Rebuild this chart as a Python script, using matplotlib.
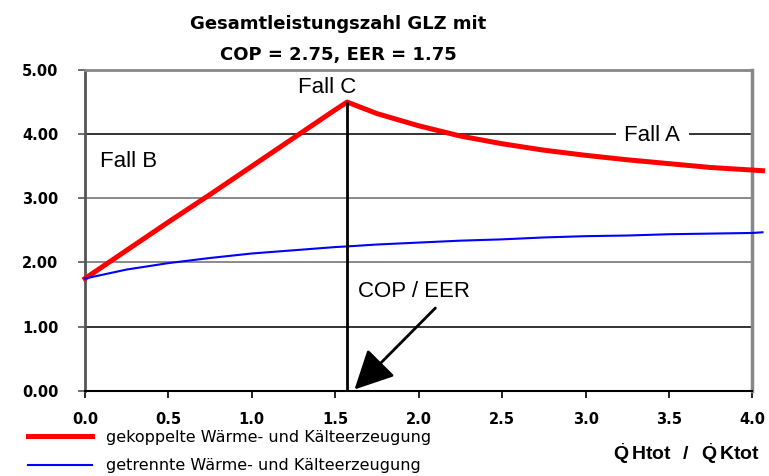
import matplotlib.pyplot as plt
import numpy as np

plt.rcParams['font.family'] = ['Liberation Sans', 'DejaVu Sans']
plt.rcParams['mathtext.fontset'] = 'custom'
plt.rcParams['mathtext.bf'] = 'Liberation Sans:bold'
plt.rcParams['mathtext.rm'] = 'Liberation Sans'

# Verhältnis Q_Htot / Q_Ktot
ratio = [0.0, 0.25, 0.5, 0.75, 1.0, 1.25, 1.5, 1.571, 1.75, 2.0, 2.25,
         2.5, 2.75, 3.0, 3.25, 3.5, 3.75, 4.0, 4.06]
# gekoppelte Wärme- und Kälteerzeugung
glz_gekoppelt = [1.75, 2.19, 2.63, 3.06, 3.50, 3.94, 4.38, 4.50, 4.32, 4.13, 3.97,
                 3.85, 3.75, 3.67, 3.60, 3.54, 3.48, 3.44, 3.43]
# getrennte Wärme- und Kälteerzeugung
glz_getrennt = [1.75, 1.89, 1.99, 2.07, 2.14, 2.19, 2.24, 2.25, 2.28, 2.31, 2.34,
                2.36, 2.39, 2.41, 2.42, 2.44, 2.45, 2.46, 2.47]

cop_eer = 1.571
glz_max = 4.50

fig = plt.figure(figsize=(7.69, 4.76), dpi=100)
ax = fig.add_axes([0.1105, 0.179, 0.868, 0.674])

ax.plot(ratio, glz_gekoppelt, color='#ff0000', lw=3.6, clip_on=False, zorder=4,
        label='gekoppelte Wärme- und Kälteerzeugung')
ax.plot(ratio, glz_getrennt, color='#0000ff', lw=1.5, clip_on=False, zorder=4,
        label='getrennte Wärme- und Kälteerzeugung')
ax.vlines(cop_eer, 0, glz_max, color='black', lw=2, zorder=5)

ax.set_xlim(0, 4.0)
ax.set_ylim(0, 5.0)
ax.set_xticks(np.arange(0, 4.01, 0.5))
ax.set_yticks(np.arange(0, 5.01, 1.0))
ax.set_xticklabels(['%.1f' % v for v in np.arange(0, 4.01, 0.5)])
ax.set_yticklabels(['%.2f' % v for v in np.arange(0, 5.01, 1.0)])
for lab in ax.get_xticklabels() + ax.get_yticklabels():
    lab.set_fontfamily('DejaVu Sans')
    lab.set_fontweight('bold')
    lab.set_fontsize(10.5)
ax.tick_params(axis='x', length=5, width=1.2, pad=10, color='black')
ax.tick_params(axis='y', length=5, width=1.2, pad=14, color='#555555')

# Gitterlinien
ax.yaxis.grid(True, lw=1.2)
grid_cols = ['none', '#111111', '#777777', '#777777', '#111111', 'none']
for gl, c in zip(ax.get_ygridlines(), grid_cols):
    gl.set_color(c)
ax.set_axisbelow(True)

ax.spines['left'].set_color('#555555')
ax.spines['left'].set_linewidth(2)
ax.spines['bottom'].set_color('black')
ax.spines['bottom'].set_linewidth(1.5)
ax.spines['top'].set_color('#888888')
ax.spines['top'].set_linewidth(2)
ax.spines['right'].set_color('#888888')
ax.spines['right'].set_linewidth(2.5)

# Beschriftungen im Diagramm
ax.text(1.45, 4.72, 'Fall C', fontsize=16, ha='center', va='center', zorder=6)
ax.text(0.09, 3.58, 'Fall B', fontsize=16, ha='left', va='center', zorder=6)
ax.text(3.40, 3.98, 'Fall A', fontsize=16, ha='center', va='center', zorder=6,
        bbox=dict(facecolor='white', edgecolor='none', pad=6))
ax.text(1.635, 1.55, 'COP / EER', fontsize=16, ha='left', va='center', zorder=6)
ax.annotate('', xy=(1.615, 0.02), xytext=(2.10, 1.29), zorder=6,
            arrowprops=dict(arrowstyle='-|>,head_length=1.5,head_width=0.75',
                            mutation_scale=16, color='black', lw=2,
                            shrinkA=0, shrinkB=0))

fig.text(0.44, 0.95, 'Gesamtleistungszahl GLZ mit', fontsize=13, fontweight='bold',
         family='DejaVu Sans', ha='center', va='center')
fig.text(0.44, 0.884, 'COP = 2.75, EER = 1.75', fontsize=13, fontweight='bold',
         family='DejaVu Sans', ha='center', va='center')

leg = ax.legend(loc='upper left', bbox_to_anchor=(0.028, 0.111), bbox_transform=fig.transFigure,
                frameon=False, handlelength=4.0, handletextpad=0.9, labelspacing=0.85,
                prop={'family': 'DejaVu Sans', 'size': 11.5}, borderaxespad=0)

fig.text(0.988, 0.022,
         r'$\dot{\mathbf{Q}}\,\mathbf{Htot}\ \ \mathbf{/}\ \ \dot{\mathbf{Q}}\,\mathbf{Ktot}$',
         fontsize=14, ha='right', va='bottom')

fig.savefig('out.png', dpi=100)
